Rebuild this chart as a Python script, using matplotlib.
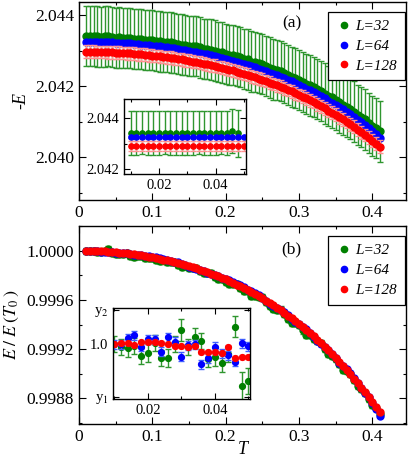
import numpy as np
import matplotlib
matplotlib.use("Agg")
import matplotlib.pyplot as plt
from matplotlib.ticker import MultipleLocator, FormatStrFormatter

plt.rcParams["font.family"] = "Liberation Serif"
plt.rcParams["mathtext.fontset"] = "stix"

# Temperatures of the main panels
T = [0.010, 0.015, 0.020, 0.025, 0.030, 0.035, 0.040, 0.045, 0.050, 0.055,
     0.060, 0.065, 0.070, 0.075, 0.080, 0.085, 0.090, 0.095, 0.100, 0.105,
     0.110, 0.115, 0.120, 0.125, 0.130, 0.135, 0.140, 0.145, 0.150, 0.155,
     0.160, 0.165, 0.170, 0.175, 0.180, 0.185, 0.190, 0.195, 0.200, 0.205,
     0.210, 0.215, 0.220, 0.225, 0.230, 0.235, 0.240, 0.245, 0.250, 0.255,
     0.260, 0.265, 0.270, 0.275, 0.280, 0.285, 0.290, 0.295, 0.300, 0.305,
     0.310, 0.315, 0.320, 0.325, 0.330, 0.335, 0.340, 0.345, 0.350, 0.355,
     0.360, 0.365, 0.370, 0.375, 0.380, 0.385, 0.390, 0.395, 0.400, 0.405,
     0.410]

# Panel (a): -E
mE_32 = [2.04341, 2.04341, 2.04341, 2.04340, 2.04339, 2.04340, 2.04341, 2.04338, 2.04336, 2.04337,
         2.04336, 2.04336, 2.04335, 2.04333, 2.04333, 2.04332, 2.04330, 2.04330, 2.04330, 2.04327,
         2.04326, 2.04325, 2.04324, 2.04323, 2.04322, 2.04318, 2.04317, 2.04316, 2.04313, 2.04313,
         2.04313, 2.04309, 2.04305, 2.04304, 2.04303, 2.04300, 2.04296, 2.04295, 2.04291, 2.04287,
         2.04287, 2.04285, 2.04281, 2.04277, 2.04275, 2.04269, 2.04267, 2.04265, 2.04263, 2.04257,
         2.04252, 2.04247, 2.04245, 2.04243, 2.04237, 2.04231, 2.04225, 2.04222, 2.04218, 2.04211,
         2.04205, 2.04202, 2.04197, 2.04192, 2.04187, 2.04179, 2.04172, 2.04168, 2.04162, 2.04154,
         2.04147, 2.04142, 2.04136, 2.04128, 2.04118, 2.04113, 2.04106, 2.04096, 2.04088, 2.04081,
         2.04072]
mE_64 = [2.04325, 2.04325, 2.04325, 2.04324, 2.04324, 2.04324, 2.04323, 2.04323, 2.04322, 2.04322,
         2.04321, 2.04320, 2.04320, 2.04319, 2.04318, 2.04317, 2.04316, 2.04315, 2.04314, 2.04313,
         2.04312, 2.04310, 2.04309, 2.04308, 2.04306, 2.04304, 2.04303, 2.04301, 2.04299, 2.04297,
         2.04296, 2.04294, 2.04291, 2.04289, 2.04287, 2.04285, 2.04282, 2.04280, 2.04277, 2.04274,
         2.04272, 2.04269, 2.04266, 2.04263, 2.04260, 2.04256, 2.04253, 2.04249, 2.04246, 2.04242,
         2.04238, 2.04234, 2.04230, 2.04226, 2.04222, 2.04217, 2.04213, 2.04208, 2.04203, 2.04198,
         2.04193, 2.04188, 2.04183, 2.04177, 2.04171, 2.04165, 2.04159, 2.04153, 2.04147, 2.04140,
         2.04134, 2.04127, 2.04120, 2.04113, 2.04105, 2.04098, 2.04090, 2.04082, 2.04074, 2.04064,
         2.04053]
mE_128 = [2.04297, 2.04297, 2.04297, 2.04296, 2.04296, 2.04296, 2.04295, 2.04295, 2.04294, 2.04294,
          2.04293, 2.04292, 2.04292, 2.04291, 2.04290, 2.04289, 2.04288, 2.04287, 2.04286, 2.04285,
          2.04284, 2.04282, 2.04281, 2.04280, 2.04278, 2.04276, 2.04275, 2.04273, 2.04271, 2.04269,
          2.04268, 2.04266, 2.04263, 2.04261, 2.04259, 2.04257, 2.04254, 2.04252, 2.04249, 2.04246,
          2.04244, 2.04241, 2.04238, 2.04235, 2.04232, 2.04228, 2.04225, 2.04221, 2.04218, 2.04214,
          2.04210, 2.04206, 2.04202, 2.04198, 2.04194, 2.04189, 2.04185, 2.04180, 2.04175, 2.04170,
          2.04165, 2.04160, 2.04155, 2.04149, 2.04143, 2.04137, 2.04131, 2.04125, 2.04119, 2.04112,
          2.04106, 2.04099, 2.04092, 2.04085, 2.04077, 2.04070, 2.04062, 2.04054, 2.04046, 2.04038,
          2.04029]
err_a = {"32": 0.00085, "64": 0.00005, "128": 0.00018}

# Panel (b): E / E(T0)
r_32 = [1.000000, 0.999996, 1.000000, 0.999993, 0.999990, 0.999999, 1.000010, 0.999980, 0.999972, 0.999972,
        0.999973, 0.999982, 0.999960, 0.999952, 0.999956, 0.999956, 0.999937, 0.999940, 0.999942, 0.999925,
        0.999913, 0.999920, 0.999908, 0.999908, 0.999905, 0.999881, 0.999867, 0.999873, 0.999858, 0.999861,
        0.999862, 0.999834, 0.999816, 0.999817, 0.999816, 0.999788, 0.999769, 0.999772, 0.999748, 0.999726,
        0.999729, 0.999729, 0.999698, 0.999675, 0.999671, 0.999633, 0.999631, 0.999626, 0.999620, 0.999584,
        0.999553, 0.999524, 0.999522, 0.999522, 0.999489, 0.999449, 0.999415, 0.999410, 0.999396, 0.999352,
        0.999315, 0.999313, 0.999281, 0.999267, 0.999252, 0.999201, 0.999160, 0.999147, 0.999122, 0.999077,
        0.999030, 0.999020, 0.999000, 0.998949, 0.998899, 0.998874, 0.998846, 0.998793, 0.998749, 0.998720,
        0.998674]
r_64 = [1.000000, 0.999997, 0.999997, 0.999994, 0.999992, 0.999991, 0.999990, 0.999986, 0.999984, 0.999983,
        0.999983, 0.999979, 0.999972, 0.999967, 0.999965, 0.999963, 0.999960, 0.999954, 0.999950, 0.999947,
        0.999938, 0.999929, 0.999920, 0.999914, 0.999910, 0.999904, 0.999893, 0.999882, 0.999871, 0.999859,
        0.999852, 0.999844, 0.999836, 0.999822, 0.999809, 0.999800, 0.999792, 0.999781, 0.999772, 0.999760,
        0.999744, 0.999732, 0.999719, 0.999701, 0.999683, 0.999671, 0.999657, 0.999637, 0.999615, 0.999590,
        0.999567, 0.999551, 0.999534, 0.999520, 0.999501, 0.999475, 0.999448, 0.999422, 0.999402, 0.999383,
        0.999361, 0.999331, 0.999299, 0.999267, 0.999245, 0.999221, 0.999197, 0.999163, 0.999126, 0.999091,
        0.999063, 0.999035, 0.999004, 0.998965, 0.998922, 0.998881, 0.998848, 0.998815, 0.998765, 0.998716,
        0.998660]
r_128 = [1.000000, 0.999999, 0.999998, 0.999997, 0.999996, 0.999994, 0.999992, 0.999990, 0.999987, 0.999984,
         0.999981, 0.999978, 0.999974, 0.999970, 0.999966, 0.999962, 0.999957, 0.999952, 0.999946, 0.999941,
         0.999935, 0.999928, 0.999922, 0.999914, 0.999907, 0.999899, 0.999891, 0.999883, 0.999874, 0.999865,
         0.999856, 0.999846, 0.999836, 0.999825, 0.999814, 0.999802, 0.999791, 0.999778, 0.999766, 0.999752,
         0.999739, 0.999725, 0.999710, 0.999695, 0.999679, 0.999663, 0.999647, 0.999630, 0.999612, 0.999594,
         0.999575, 0.999556, 0.999536, 0.999516, 0.999495, 0.999473, 0.999451, 0.999428, 0.999404, 0.999380,
         0.999355, 0.999329, 0.999303, 0.999275, 0.999248, 0.999219, 0.999190, 0.999159, 0.999128, 0.999097,
         0.999064, 0.999030, 0.998996, 0.998961, 0.998925, 0.998888, 0.998850, 0.998811, 0.998771, 0.998730,
         0.998688]
err_b = {"32": 0.000025, "64": 0.000008, "128": 0.000004}

# Inset (a): low-T zoom of -E
T_ia = [0.010, 0.012, 0.014, 0.016, 0.018, 0.020, 0.022, 0.024, 0.026, 0.028, 0.030,
        0.032, 0.034, 0.036, 0.038, 0.040, 0.042, 0.044, 0.046, 0.048, 0.050]
ia_32 = [2.04342, 2.04342, 2.04342, 2.04342, 2.04342, 2.04342, 2.04342, 2.04342, 2.04342, 2.04342,
         2.04343, 2.04342, 2.04342, 2.04342, 2.04342, 2.04342, 2.04342, 2.04342, 2.04348, 2.04340]
ia_64 = [2.04326, 2.04326, 2.04326, 2.04326, 2.04326, 2.04326, 2.04326, 2.04326, 2.04326, 2.04326, 2.04326,
         2.04326, 2.04326, 2.04326, 2.04326, 2.04326, 2.04326, 2.04326, 2.04326, 2.04326, 2.04326]
ia_128 = [2.04291, 2.04291, 2.04291, 2.04291, 2.04291, 2.04291, 2.04291, 2.04291, 2.04291, 2.04291, 2.04291,
          2.04291, 2.04291, 2.04291, 2.04291, 2.04291, 2.04291, 2.04291, 2.04291, 2.04291, 2.04291]
ia_err_32 = [0.00085, 0.00086, 0.00084, 0.00085, 0.00086, 0.00085, 0.00084, 0.00085, 0.00086, 0.00085,
             0.00086, 0.00085, 0.00084, 0.00085, 0.00086, 0.00085, 0.00084, 0.00085, 0.00086, 0.00090]

# Inset (b): low-T zoom of E / E(T0)
T_ib = T_ia
ib_32 = [1.000000, 0.999967, 0.999960, 0.999985, 0.999883, 0.999907, 1.000010, 0.999857, 0.999860, 1.000000,
         1.000140, 0.999970, 1.000073, 1.000033, 0.999850, 0.999873, 0.999810, 0.999900, 1.000177, 0.999583,
         0.999627]
ib_64 = [1.000000, 1.000000, 1.000057, 1.000090, 0.999973, 1.000050, 1.000050, 0.999923, 1.000067, 1.000023,
         0.999873, 0.999990, 1.000000, 0.999800, 0.999857, 0.999973, 0.999907, 0.999890, 0.999823, 1.000007,
         0.999980]
ib_128 = [1.000000, 1.000007, 1.000007, 0.999993, 1.000017, 1.000017, 1.000023, 1.000007, 0.999997, 0.999977,
          0.999977, 0.999967, 0.999983, 0.999923, 0.999923, 0.999923, 0.999907, 0.999973, 0.999860, 0.999873,
          0.999867]
ib_err_32 = [0.00008, 0.00008, 0.00009, 0.00008, 0.00008, 0.00009, 0.00008, 0.00008, 0.00009, 0.00008,
             0.00011, 0.00008, 0.00009, 0.00008, 0.00008, 0.00009, 0.00009, 0.00008, 0.00011, 0.00014,
             0.00013]
ib_err_64 = 0.000045
ib_err_128 = 0.00002

labels = ["L=32", "L=64", "L=128"]
colors = ["#008000", "#0000ff", "#ff0000"]
ecolors = ["#2f962f", "#4060ff", "#ff9090"]


def style_axes(ax, size):
    ax.tick_params(which="both", direction="in", top=True, right=True, labelsize=size)
    ax.tick_params(which="major", length=5, width=0.8)
    ax.tick_params(which="minor", length=2.5, width=0.8)
    for s in ax.spines.values():
        s.set_linewidth(1.0)


def draw(ax, x, ys, errs, ms):
    for y, e, c, ec, lab in zip(ys, errs, colors, ecolors, labels):
        ax.errorbar(x[:len(y)], y, yerr=e, fmt="none", ecolor=ec, elinewidth=1.0,
                    capsize=2, capthick=1.0)
        ax.plot(x[:len(y)], y, "o", color=c, ms=ms, mec=c, label=lab)


def add_legend(ax):
    leg = ax.legend(loc="upper right", bbox_to_anchor=(0.996, 0.95), borderaxespad=0,
                    prop={"style": "italic", "size": 11}, fancybox=False, edgecolor="black",
                    framealpha=1, handletextpad=0.2, handlelength=1.1, labelspacing=0.4,
                    borderpad=0.5, markerscale=0.9)
    leg.get_frame().set_linewidth(0.9)
    leg.set_zorder(10)


fig = plt.figure(figsize=(4.09, 4.59), dpi=100)

# ---- panel (a)
ax1 = fig.add_axes([0.193, 0.5643, 0.7995, 0.4314])
draw(ax1, T, [mE_32, mE_64, mE_128], [err_a["32"], err_a["64"], err_a["128"]], 5)
ax1.set_xlim(0, 0.446)
ax1.set_ylim(2.03879, 2.04437)
ax1.xaxis.set_minor_locator(MultipleLocator(0.05))
ax1.yaxis.set_major_locator(MultipleLocator(0.002))
ax1.yaxis.set_minor_locator(MultipleLocator(0.001))
ax1.yaxis.set_major_formatter(FormatStrFormatter("%.3f"))
ax1.set_xticks([0, 0.1, 0.2, 0.3, 0.4])
ax1.set_xticklabels(["0", "0.1", "0.2", "0.3", "0.4"])
ax1.set_ylabel("-E", fontsize=13, style="italic")
style_axes(ax1, 12.5)
ax1.text(0.651, 0.894, "(a)", transform=ax1.transAxes, fontsize=12.5, ha="center", va="center")
add_legend(ax1)

# inset (a)
in1 = fig.add_axes([0.3032, 0.6209, 0.2976, 0.1634])
draw(in1, T_ia, [ia_32, ia_64, ia_128], [ia_err_32, 0.00004, 0.00018], 3.8)
in1.set_xlim(0.0076, 0.0507)
in1.set_ylim(2.04182, 2.04474)
in1.set_xticks([0.02, 0.04])
in1.xaxis.set_minor_locator(MultipleLocator(0.01))
in1.set_yticks([2.042, 2.044])
in1.yaxis.set_minor_locator(MultipleLocator(0.001))
in1.yaxis.set_major_formatter(FormatStrFormatter("%.3f"))
in1.xaxis.set_major_formatter(FormatStrFormatter("%.2f"))
style_axes(in1, 10.5)
in1.tick_params(which="major", length=4)
in1.tick_params(which="minor", length=2)

# ---- panel (b)
ax2 = fig.add_axes([0.193, 0.0756, 0.7995, 0.432])
draw(ax2, T, [r_32, r_64, r_128], [err_b["32"], err_b["64"], err_b["128"]], 5)
ax2.set_xlim(0, 0.446)
ax2.set_ylim(0.99859, 1.0002)
ax2.xaxis.set_minor_locator(MultipleLocator(0.05))
ax2.yaxis.set_major_locator(MultipleLocator(0.0004))
ax2.yaxis.set_minor_locator(MultipleLocator(0.0002))
ax2.yaxis.set_major_formatter(FormatStrFormatter("%.4f"))
ax2.set_xticks([0, 0.1, 0.2, 0.3, 0.4])
ax2.set_xticklabels(["0", "0.1", "0.2", "0.3", "0.4"])
ax2.set_xlabel("T", fontsize=13, style="italic", labelpad=-3)
ax2.set_ylabel(r"$E\;/\;E\;(T_0\,)$", fontsize=13)
style_axes(ax2, 12.5)
ax2.text(0.651, 0.884, "(b)", transform=ax2.transAxes, fontsize=12.5, ha="center", va="center")
add_legend(ax2)

# inset (b)
in2 = fig.add_axes([0.277, 0.1314, 0.3342, 0.1976])
draw(in2, T_ib, [ib_32, ib_64, ib_128], [ib_err_32, ib_err_64, ib_err_128], 4.2)
in2.set_xlim(0.0097, 0.0505)
in2.set_ylim(0.999453, 1.000363)
in2.set_xticks([0.02, 0.04])
in2.xaxis.set_minor_locator(MultipleLocator(0.01))
in2.xaxis.set_major_formatter(FormatStrFormatter("%.2f"))
in2.set_yticks([0.999473, 1.0, 1.000343])
in2.set_yticklabels(["y$_1$", "1.0", "y$_2$"])
style_axes(in2, 10.5)
in2.tick_params(which="major", length=4)
in2.tick_params(which="minor", length=2)

plt.savefig("out.png", dpi=100)
